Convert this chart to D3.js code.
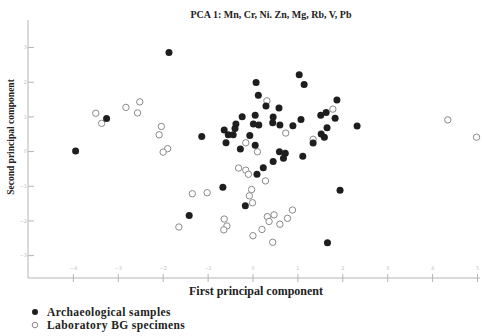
<!DOCTYPE html>
<html>
<head>
<meta charset="utf-8">
<script src="https://cdn.jsdelivr.net/npm/d3@7"></script>
<style>
  body { margin: 0; background: #fff; }
  svg { display: block; }
  .axis path, .axis line { stroke: #b4b4b4; }
  .axis text { fill: #c4c4c4; font-family: "DejaVu Sans", sans-serif; font-size: 5px; }
  .lbl { font-family: "Liberation Serif", "Times New Roman", serif; font-weight: bold; fill: #222; }
</style>
</head>
<body>
<svg id="chart"></svg>
<script>
// archaeological samples (PC1, PC2)
let archX = [-1.86, -3.25, -3.94, -1.13, 0.08, 0.13, -0.23, 0.06, -0.37, -0.39, -0.63, -0.54, -0.43, -0.06, -0.59, -0.27, 0.06, 0.02, 0.10, -0.66, -0.16, -1.41, 1.04, 1.15, 1.88, 0.30, 0.59, 0.46, 1.08, 1.52, 1.64, 1.84, 2.33, 0.14, 0.45, 0.61, 0.90, 1.66, 1.53, 1.60, 1.35, 0.60, 0.73, 0.69, 1.12, 0.46, 0.24, 1.95, 1.67];
let archY = [2.84, 0.94, 0.00, 0.42, 1.98, 1.61, 0.99, 1.03, 0.78, 0.65, 0.61, 0.47, 0.47, 0.45, 0.24, 0.06, 0.17, 0.78, -0.67, -1.04, -1.58, -1.86, 2.20, 1.92, 1.47, 1.30, 1.24, 0.98, 0.91, 1.03, 1.11, 0.95, 0.72, 0.75, 0.82, 0.75, 0.73, 0.67, 0.49, 0.40, 0.23, -0.02, -0.06, -0.21, -0.15, -0.30, -0.48, -1.13, -2.64];

// laboratory BG specimens (PC1, PC2)
let labX = [-3.49, -3.36, -2.82, -2.51, -2.56, -2.03, -2.08, -1.89, -1.99, -1.34, -1.01, -1.64, -0.63, -0.57, -0.64, 0.01, -0.15, 0.11, -0.31, -0.15, -0.09, -0.02, -0.07, 0.00, 0.32, 1.79, 0.74, 1.35, 0.29, 0.33, 0.48, 0.37, 0.89, 0.78, 0.61, 0.21, 0.45, 4.35, 4.99];
let labY = [1.09, 0.80, 1.26, 1.42, 1.10, 0.71, 0.47, 0.07, -0.03, -1.23, -1.20, -2.19, -1.96, -2.16, -2.27, -2.44, 0.24, -0.02, -0.49, -0.55, -0.67, -1.11, -1.29, -1.49, 1.45, 1.21, 0.52, 0.34, -0.86, -1.89, -1.84, -2.03, -1.70, -1.94, -2.11, -2.26, -2.63, 0.90, 0.40];

let xTicks = [-4, -3, -2, -1, 0, 1, 2, 3, 4, 5];
let yTicks = [-3, -2, -1, 0, 1, 2, 3];

let title = "PCA 1: Mn, Cr, Ni. Zn, Mg, Rb, V, Pb";
let xTitle = "First principal component";
let yTitle = "Second principal component";
let legendNames = ["Archaeological samples", "Laboratory BG specimens"];

let W = 482, H = 336;
let x = d3.scaleLinear().domain([-5, 5]).range([28, 477]);
let y = d3.scaleLinear().domain([-3.66, 3.78]).range([278, 20]);

let svg = d3.select("#chart").attr("width", W).attr("height", H);

// axes
let xAxis = d3.axisBottom(x).tickValues(xTicks).tickSizeInner(4).tickSizeOuter(0).tickPadding(1);
let yAxis = d3.axisRight(y).tickValues(yTicks).tickSizeInner(4).tickSizeOuter(0).tickPadding(1);

let gx = svg.append("g").attr("class", "axis").attr("transform", "translate(0,278)").call(xAxis);
gx.select(".domain").attr("d", "M" + x(-5) + ",0H480");
gx.selectAll(".tick line").attr("y1", -4).attr("y2", 4);
gx.selectAll(".tick text").attr("y", -12);

let gy = svg.append("g").attr("class", "axis").attr("transform", "translate(" + x(-5) + ",0)").call(yAxis);
gy.select(".domain").attr("d", "M0,20V278");
gy.selectAll(".tick line").attr("x1", 0).attr("x2", 6);
gy.selectAll(".tick text").attr("x", -1).attr("text-anchor", "end");

// points
let arch = archX.map((v, i) => ({ x: v, y: archY[i] }));
let lab = labX.map((v, i) => ({ x: v, y: labY[i] }));

svg.append("g").selectAll("circle").data(lab).enter().append("circle")
  .attr("cx", d => x(d.x)).attr("cy", d => y(d.y)).attr("r", 3.2)
  .attr("fill", "#fff").attr("stroke", "#8a8a8a").attr("stroke-width", 1);

svg.append("g").selectAll("circle").data(arch).enter().append("circle")
  .attr("cx", d => x(d.x)).attr("cy", d => y(d.y)).attr("r", 3.5)
  .attr("fill", "#1e1e1e");

// titles
svg.append("text").attr("class", "lbl").attr("x", 271).attr("y", 18)
  .attr("text-anchor", "middle").style("font-size", "10px").text(title);
svg.append("text").attr("class", "lbl").attr("x", 256).attr("y", 295)
  .attr("text-anchor", "middle").style("font-size", "12px").text(xTitle);
svg.append("text").attr("class", "lbl").attr("transform", "translate(14,137) rotate(-90)")
  .attr("text-anchor", "middle").style("font-size", "9.5px").text(yTitle);

// legend
let lg = svg.append("g");
lg.append("circle").attr("cx", 35).attr("cy", 312).attr("r", 3).attr("fill", "#1e1e1e");
lg.append("circle").attr("cx", 35).attr("cy", 325).attr("r", 2.8).attr("fill", "#fff")
  .attr("stroke", "#8a8a8a").attr("stroke-width", 1);
lg.selectAll("text").data(legendNames).enter().append("text").attr("class", "lbl")
  .attr("x", 47).attr("y", (d, i) => 316 + i * 13).style("font-size", "11.5px")
  .style("letter-spacing", "0.4px").text(d => d);
</script>
</body>
</html>
